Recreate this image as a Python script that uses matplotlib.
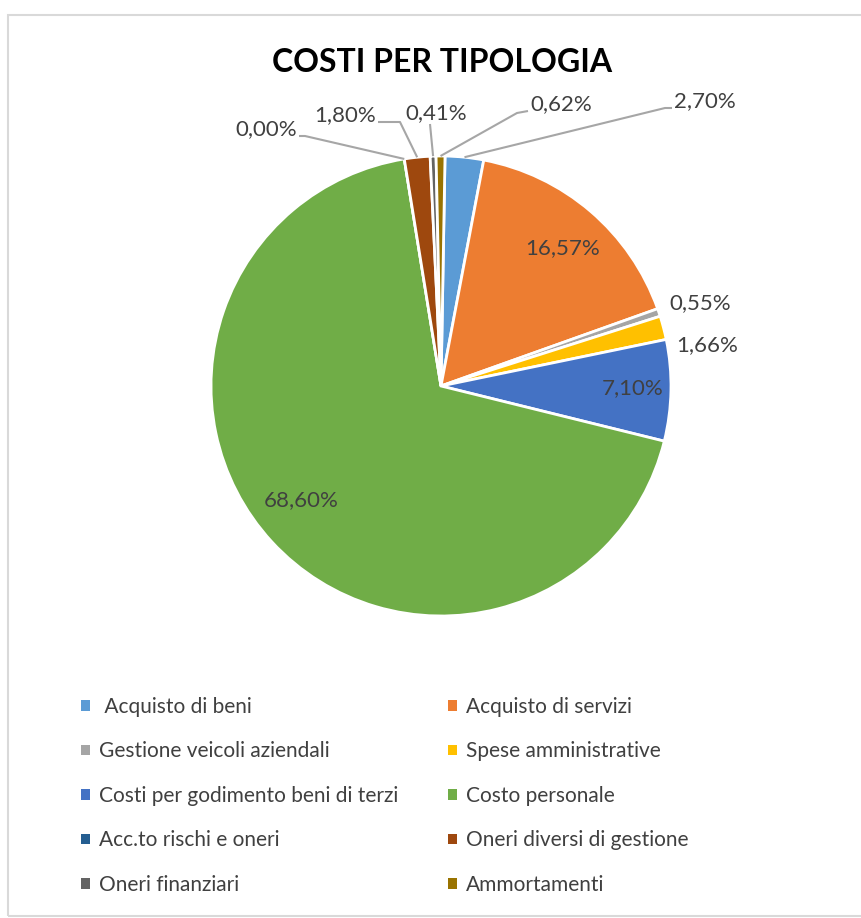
import numpy as np
import matplotlib.pyplot as plt
from matplotlib.patches import Patch, Rectangle

# --- dati ---
categorie = [' Acquisto di beni', 'Acquisto di servizi', 'Gestione veicoli aziendali',
             'Spese amministrative', 'Costi per godimento beni di terzi', 'Costo personale',
             'Acc.to rischi e oneri', 'Oneri diversi di gestione', 'Oneri finanziari',
             'Ammortamenti']
percentuali = [2.70, 16.57, 0.55, 1.66, 7.10, 68.60, 0.00, 1.80, 0.41, 0.62]
colori = ['#5B9BD5', '#ED7D31', '#A5A5A5', '#FFC000', '#4472C4', '#70AD47',
          '#255E91', '#9E480E', '#636363', '#997300']

W, H = 861, 918
CX, CY, R = 441, 386, 230


def px(x, y):
    # coordinate in pixel -> coordinate dati (raggio torta = 1)
    return (x - CX) / R, (CY - y) / R


fig = plt.figure(figsize=(W / 100, H / 100), dpi=100)
ax = fig.add_axes([0, 0, 1, 1])

wedges, _ = ax.pie(percentuali, colors=colori, startangle=89, counterclock=False,
                   radius=1, center=(0, 0),
                   wedgeprops=dict(edgecolor='white', linewidth=2))
ax.set_xlim(px(0, 0)[0], px(W, 0)[0])
ax.set_ylim(px(0, H)[1], px(0, 0)[1])
ax.set_aspect('auto')
ax.axis('off')

font = ['Lato', 'DejaVu Sans']
txt_col = '#404040'
line_col = '#A6A6A6'


def etichetta(v):
    return f'{v:.2f}%'.replace('.', ',')


# etichette interne
interne = {5: (301, 500), 1: (563, 248), 4: (633, 388)}
for i, (x, y) in interne.items():
    ax.text(*px(x, y), etichetta(percentuali[i]), ha='center', va='center',
            fontsize=16, color=txt_col, family=font)

# etichette esterne: posizione testo, allineamento, punti della linea guida
esterne = {
    6: ((297, 129), 'right', (299, 136), (305, 136)),
    7: ((376, 115), 'right', (378, 122), (400, 122)),
    8: ((436, 113), 'center', (430, 124), (430, 124)),
    9: ((530, 104), 'left', (528, 111), (517, 113)),
    0: ((674, 101), 'left', (672, 108), (665, 108)),
    2: ((669, 303), 'left', None, None),
    3: ((676, 345), 'left', None, None),
}
for i, ((x, y), ha, p0, p1) in esterne.items():
    ax.text(*px(x, y), etichetta(percentuali[i]), ha=ha, va='center',
            fontsize=16, color=txt_col, family=font)
    if p0 is None:
        continue
    w = wedges[i]
    mid = np.deg2rad((w.theta1 + w.theta2) / 2)
    bordo = (np.cos(mid), np.sin(mid))
    xs = [px(*p0)[0], px(*p1)[0], bordo[0]]
    ys = [px(*p0)[1], px(*p1)[1], bordo[1]]
    ax.plot(xs, ys, color=line_col, lw=1.5, solid_capstyle='butt')

ax.text(*px(442, 62), 'COSTI PER TIPOLOGIA', ha='center', va='center',
        fontsize=23, fontweight='bold', color='black', family=font)

# legenda a due colonne, riempita per righe
ordine = [0, 2, 4, 6, 8, 1, 3, 5, 7, 9]
handles = [Patch(facecolor=colori[i], edgecolor='none') for i in ordine]
labels = [categorie[i] for i in ordine]
leg = ax.legend(handles, labels, ncol=2, loc='upper left',
                bbox_to_anchor=(62 / W, 1 - 678 / H), bbox_transform=fig.transFigure,
                frameon=False, prop={'family': font, 'size': 15},
                handlelength=0.42, handleheight=0.42, handletextpad=0.45,
                labelspacing=1.18, columnspacing=2.4, labelcolor=txt_col)

# bordo dell'area grafico
fig.add_artist(Rectangle((8 / W, 2 / H), 1.0, 1 - 17 / H, transform=fig.transFigure,
                         fill=False, edgecolor='#D9D9D9', lw=1.5))

fig.savefig('out.png', dpi=100, facecolor='white')
